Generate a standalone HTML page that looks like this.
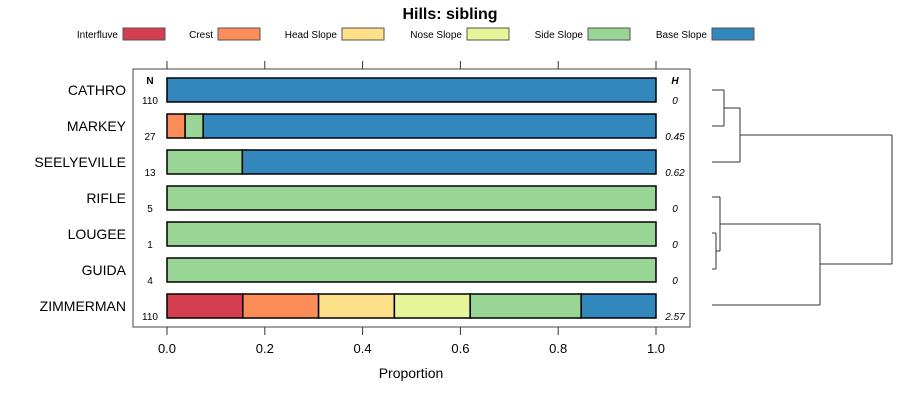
<!DOCTYPE html>
<html><head><meta charset="utf-8"><style>
body{margin:0;background:#fff}
svg text{font-family:"Liberation Sans",sans-serif}
</style></head><body>
<svg id="c" width="900" height="400" xmlns="http://www.w3.org/2000/svg">
<text x="450" y="19" text-anchor="middle" font-size="16" font-weight="bold">Hills: sibling</text>
<g id="legend"></g>
<rect x="133" y="69" width="557" height="258" fill="none" stroke="#444"/>
<g id="bars"></g><g id="axis"></g><g id="dend"></g>
<text x="411" y="378" text-anchor="middle" font-size="14">Proportion</text>
<text x="150" y="84" text-anchor="middle" font-size="10" font-weight="bold">N</text>
<text x="675" y="84" text-anchor="middle" font-size="10" font-weight="bold" font-style="italic">H</text>
</svg>
<script>
const categories=["Interfluve","Crest","Head Slope","Nose Slope","Side Slope","Base Slope"];
const colors=["#D53E4F","#FC8D59","#FEE08B","#E6F598","#99D594","#3288BD"];
const sites=["CATHRO","MARKEY","SEELYEVILLE","RIFLE","LOUGEE","GUIDA","ZIMMERMAN"];
const nVals=[110,27,13,5,1,4,110];
const hVals=["0","0.45","0.62","0","0","0","2.57"];
const props=[
[0,0,0,0,0,1],
[0,0.037,0,0,0.037,0.926],
[0,0,0,0,0.154,0.846],
[0,0,0,0,1,0],
[0,0,0,0,1,0],
[0,0,0,0,1,0],
[0.155,0.155,0.155,0.155,0.227,0.153]];
const ticks=[0,0.2,0.4,0.6,0.8,1.0];
const NS="http://www.w3.org/2000/svg";
const xs=v=>167+v*489, ys=i=>90+i*36;
function mk(t,a,p){const e=document.createElementNS(NS,t);for(const k in a)e.setAttribute(k,a[k]);p.appendChild(e);return e;}
const lg=document.getElementById('legend');
const swX=[123,218,342,467,588,712];
categories.forEach((c,i)=>{
 const t=mk('text',{x:swX[i]-5,y:38,'text-anchor':'end','font-size':10},lg);t.textContent=c;
 
 
 const r=mk('rect',{x:swX[i],y:28,width:42,height:12,fill:colors[i],stroke:'#555'},lg);
 
 
});
const bg=document.getElementById('bars');
sites.forEach((s,i)=>{
 const y=ys(i);
 const l=mk('text',{x:126,y:y+5,'text-anchor':'end','font-size':14},bg);l.textContent=s;
 
 
 const n=mk('text',{x:150,y:y+14,'text-anchor':'middle','font-size':10},bg);n.textContent=nVals[i];
 
 
 const h=mk('text',{x:675,y:y+14,'text-anchor':'middle','font-size':10,'font-style':'italic'},bg);h.textContent=hVals[i];
 
 
 let acc=0;
 props[i].forEach((p,j)=>{
  if(p<=0)return;
  const r=mk('rect',{x:xs(acc),y:y-12,width:xs(acc+p)-xs(acc),height:24,fill:colors[j],stroke:'#000','stroke-width':1.5},bg);
  
  
  acc+=p;
 });
});
const ax=document.getElementById('axis');
ticks.forEach(t=>{
 const x=xs(t);
 mk('line',{x1:x,x2:x,y1:61,y2:69,stroke:'#333'},ax);
 mk('line',{x1:x,x2:x,y1:327,y2:335,stroke:'#333'},ax);
 const l=mk('text',{x:x,y:353,'text-anchor':'middle','font-size':13},ax);l.textContent=t.toFixed(1);
 
 
});
const d=document.getElementById('dend');
const segs=[[712,90,724,90],[712,126,724,126],[724,90,724,126],[724,108,740,108],[712,162,740,162],[740,108,740,162],
[712,233,716,233],[712,269,716,269],[716,233,716,269],[712,197,720,197],[716,251,720,251],[720,197,720,251],
[720,224,820,224],[712,305,820,305],[820,224,820,305],[740,135,892,135],[820,264,892,264],[892,135,892,264]];
segs.forEach(s=>mk('line',{x1:s[0],y1:s[1],x2:s[2],y2:s[3],stroke:'#333'},d));
</script>
</body></html>
